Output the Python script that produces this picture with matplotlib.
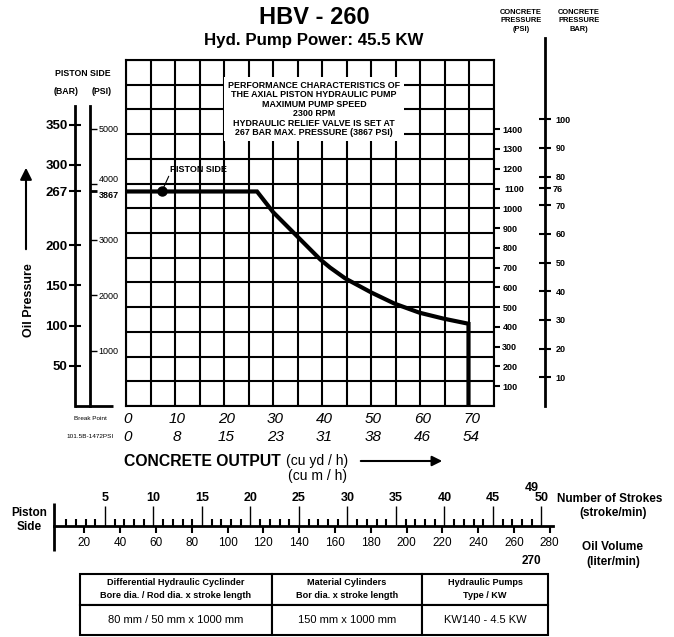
import numpy as np
import matplotlib
matplotlib.use("Agg")
import matplotlib.pyplot as plt
from matplotlib.lines import Line2D
from matplotlib.transforms import blended_transform_factory as blend

plt.rcParams['font.family'] = ['Liberation Sans', 'DejaVu Sans']

# ---------------- data ----------------
OUTPUT_CUYD = [0, 26.7, 30, 34.9, 39.6, 41.6, 44.7, 50, 54.7, 59.8, 64.7, 69.8, 69.8]
CONC_PSI = [1085, 1085, 980, 858, 741, 700, 645, 574, 518, 472, 442, 416, 0]
DOT_X = [7.3]
DOT_Y = [1085]

X_TICKS_CUYD = [0, 10, 20, 30, 40, 50, 60, 70]
X_LABELS_CUM = ['0', '8', '15', '23', '31', '38', '46', '54']

CONC_PSI_TICKS = [100, 200, 300, 400, 500, 600, 700, 800, 900, 1000, 1100, 1200, 1300, 1400]
CONC_BAR_TICKS = [10, 20, 30, 40, 50, 60, 70, 80, 90, 100]
CONC_BAR_MARK = 76
PSI_PER_BAR = 14.5

OIL_BAR_TICKS = [50, 100, 150, 200, 267, 300, 350]
OIL_PSI_TICKS = [1000, 2000, 3000, 3867, 4000, 5000]
OIL_MAX_BAR = 267
OIL_MAX_PSI = 3867

STROKE_MAJOR = [5, 10, 15, 20, 25, 30, 35, 40, 45, 50]
STROKE_MINOR = list(range(1, 50))
STROKE_MARK = 49
OIL_VOL_TICKS = [20, 40, 60, 80, 100, 120, 140, 160, 180, 200, 220, 240, 260, 280]
OIL_VOL_MARK = 270

BOX_LINES = ["PERFORMANCE CHARACTERISTICS OF", "THE AXIAL PISTON HYDRAULIC PUMP",
             "MAXIMUM PUMP SPEED", "2300 RPM", "HYDRAULIC RELIEF VALVE IS SET AT",
             "267 BAR MAX. PRESSURE (3867 PSI)"]

TABLE_HEAD = ["Differential Hydraulic Cyclinder\nBore dia. / Rod dia. x stroke length",
              "Material Cylinders\nBor dia. x stroke length",
              "Hydraulic Pumps\nType / KW"]
TABLE_BODY = ["80 mm / 50 mm x 1000 mm", "150 mm x 1000 mm", "KW140 - 4.5 KW"]

# ---------------- layout helpers (pixels, origin top-left) ----------------
W, H = 674, 637
fig = plt.figure(figsize=(W / 100, H / 100), dpi=100)


def fx(px):
    return px / W


def fy(py):
    return 1 - py / H


def rect(l, t, r, b):
    return [l / W, 1 - b / H, max(r - l, 0.05) / W, max(b - t, 0.05) / H]


def fline(x0, y0, x1, y1, lw=1.5):
    fig.add_artist(Line2D([fx(x0), fx(x1)], [fy(y0), fy(y1)], color='black', lw=lw,
                          transform=fig.transFigure, solid_capstyle='butt'))


LW = 1.5
XMAX, YMAX = 75, 1750
G_L, G_T, G_R, G_B = 126, 60, 494, 406

# ---------------- main grid ----------------
ax = fig.add_axes(rect(G_L, G_T, G_R, G_B))
ax.set_xlim(0, XMAX)
ax.set_ylim(0, YMAX)
ax.set_xticks(np.arange(0, XMAX + 1, 5))
ax.set_yticks(np.arange(0, YMAX + 1, 125))
ax.tick_params(length=0, labelbottom=False, labelleft=False)
ax.grid(True, color='black', lw=LW)
for s in ax.spines.values():
    s.set_linewidth(LW)

ax.plot(OUTPUT_CUYD, CONC_PSI, color='black', lw=3, zorder=5, solid_joinstyle='miter')
ax.plot(DOT_X, DOT_Y, 'o', color='black', ms=6.5, zorder=6)

ax.annotate('PISTON SIDE', xy=(DOT_X[0], DOT_Y[0]), xycoords='data',
            xytext=(fx(170), fy(169)), textcoords='figure fraction',
            ha='left', va='center', fontsize=6.5, fontweight='bold',
            arrowprops=dict(arrowstyle='-', lw=0.8, color='black', relpos=(0, 0),
                            shrinkA=0, shrinkB=3), zorder=7)

ax.text(fx(314), fy(109), "\n".join(BOX_LINES), transform=fig.transFigure,
        ha='center', va='center', fontsize=6.4, fontweight='bold', linespacing=1.08,
        bbox=dict(boxstyle='square,pad=0.45', fc='white', ec='none'), zorder=8)

# bottom x labels
tb = blend(ax.transData, fig.transFigure)
for v, lab2 in zip(X_TICKS_CUYD, X_LABELS_CUM):
    ax.text(v + 0.4, fy(419), str(v), transform=tb, ha='center', va='center',
            fontsize=11, style='italic')
    ax.text(v + 0.4, fy(437), lab2, transform=tb, ha='center', va='center',
            fontsize=11, style='italic')
fig.text(fx(90), fy(419), 'Break Point', ha='center', va='center', fontsize=4.6)
fig.text(fx(90), fy(437), '101.5B-1472PSI', ha='center', va='center', fontsize=4.6)

fig.text(fx(124), fy(461), 'CONCRETE OUTPUT', ha='left', va='center', fontsize=11.3,
         fontweight='bold')
fig.text(fx(286), fy(461), '(cu yd / h)', ha='left', va='center', fontsize=10)
fig.text(fx(288), fy(476), '(cu m / h)', ha='left', va='center', fontsize=10)
fig.add_artist(matplotlib.patches.FancyArrowPatch(
    (fx(358), fy(461)), (fx(445), fy(461)), transform=fig.transFigure,
    arrowstyle='-|>,head_length=6,head_width=3', lw=1.5, color='black',
    mutation_scale=1))

# ---------------- right: concrete pressure PSI ----------------
axr = ax.twinx()
axr.set_ylim(0, YMAX)
axr.set_yticks(CONC_PSI_TICKS, labels=[str(v) for v in CONC_PSI_TICKS],
               fontsize=6.5, fontweight='bold')
axr.tick_params(axis='y', length=4.5, width=LW, pad=1.5)
for s in axr.spines.values():
    s.set_visible(False)
for t, v in zip(axr.yaxis.get_major_ticks(), CONC_PSI_TICKS):
    if v == 1100:
        t.tick2line.set_markersize(9.5)
        t.tick2line.set_markeredgewidth(3)
        t.set_pad(3)

# ---------------- right: concrete pressure BAR ----------------
CB_TOP = 38
axb = fig.add_axes(rect(545, CB_TOP, 545, G_B))
axb.set_ylim(0, YMAX / PSI_PER_BAR * (G_B - CB_TOP) / (G_B - G_T))
axb.set_xticks([])
axb.yaxis.tick_right()
for k, s in axb.spines.items():
    s.set_visible(k == 'right')
axb.spines['right'].set_linewidth(2)
axb.set_yticks(CONC_BAR_TICKS + [CONC_BAR_MARK],
               labels=[str(v) for v in CONC_BAR_TICKS] + [str(CONC_BAR_MARK)],
               fontsize=6.5, fontweight='bold')
axb.tick_params(axis='y', direction='inout', length=8.6, width=LW, pad=3.5)
axb.yaxis.get_major_ticks()[-1].set_pad(1.2)

fig.text(fx(521), fy(21), 'CONCRETE\nPRESSURE\n(PSI)', ha='center', va='center',
         fontsize=5.4, fontweight='bold', linespacing=1.3)
fig.text(fx(579), fy(21), 'CONCRETE\nPRESSURE\nBAR)', ha='center', va='center',
         fontsize=5.4, fontweight='bold', linespacing=1.3)

# ---------------- left: oil pressure scales ----------------
OP_TOP = 106
oil_bar_top = (G_B - OP_TOP) / (G_B - G_T) * YMAX * OIL_MAX_BAR / DOT_Y[0]
axo = fig.add_axes(rect(75, OP_TOP, 75, G_B))
axo.set_ylim(0, oil_bar_top)
axo.set_xticks([])
for k, s in axo.spines.items():
    s.set_visible(k == 'left')
axo.spines['left'].set_linewidth(2)
axo.set_yticks(OIL_BAR_TICKS, labels=[str(v) for v in OIL_BAR_TICKS],
               fontsize=9.5, fontweight='bold')
axo.tick_params(axis='y', direction='inout', length=8.6, width=LW, pad=1)

axp = fig.add_axes(rect(90, OP_TOP, 90, G_B))
axp.set_ylim(0, oil_bar_top * OIL_MAX_PSI / OIL_MAX_BAR)
axp.set_xticks([])
axp.yaxis.tick_right()
for k, s in axp.spines.items():
    s.set_visible(k == 'right')
axp.spines['right'].set_linewidth(2)
axp.set_yticks(OIL_PSI_TICKS, labels=[str(v) for v in OIL_PSI_TICKS], fontsize=6.5)
axp.tick_params(axis='y', direction='out', length=5, width=1, pad=1)
for t, v in zip(axp.yaxis.get_major_ticks(), OIL_PSI_TICKS):
    if v == OIL_MAX_PSI:
        t.label2.set_fontweight('bold')
        t.tick2line.set_markeredgewidth(2)
        t.label2.set_va('top')
    if v == 4000:
        t.label2.set_va('bottom')

fline(75, G_B, 113, G_B, lw=2)
fig.text(fx(83), fy(73), 'PISTON SIDE', ha='center', va='center', fontsize=6.3,
         fontweight='bold')
fig.text(fx(66), fy(91), '(BAR)', ha='center', va='center', fontsize=6.3, fontweight='bold')
fig.text(fx(102), fy(91), '(PSI)', ha='center', va='center', fontsize=6.3, fontweight='bold')
fig.text(fx(29), fy(300), 'Oil Pressure', rotation=90, ha='center', va='center',
         fontsize=9, fontweight='bold')
fig.add_artist(matplotlib.patches.FancyArrowPatch(
    (fx(26), fy(252)), (fx(26), fy(165)), transform=fig.transFigure,
    arrowstyle='-|>,head_length=7,head_width=3.5', lw=1.5, color='black',
    mutation_scale=1))

# ---------------- bottom: strokes / oil volume scale ----------------
S_L, S_R, S_Y = 54, 553, 526
STROKE_PX0, STROKE_PX_PER = 56.5, 9.7
OIL_PX0, OIL_PX_PER = 48.5, 1.79
axs = fig.add_axes(rect(S_L, S_Y, S_R, S_Y))
axs.set_xlim((S_L - STROKE_PX0) / STROKE_PX_PER, (S_R - STROKE_PX0) / STROKE_PX_PER)
axs.set_yticks([])

axv = axs.twiny()
axv.set_xlim((S_L - OIL_PX0) / OIL_PX_PER, (S_R - OIL_PX0) / OIL_PX_PER)
axv.set_yticks([])
for s in axv.spines.values():
    s.set_visible(False)
axv.xaxis.tick_bottom()
axv.set_xticks(OIL_VOL_TICKS, labels=[str(v) for v in OIL_VOL_TICKS], fontsize=8.5)
axv.tick_params(axis='x', which='both', top=False, labeltop=False, bottom=True,
                labelbottom=True, direction='out', length=5, width=1.5, pad=3)

for k, s in axs.spines.items():
    s.set_visible(k == 'top')
axs.spines['top'].set_linewidth(2)
axs.set_xticks(STROKE_MAJOR, labels=[str(v) for v in STROKE_MAJOR], fontsize=9,
               fontweight='bold')
axs.set_xticks(STROKE_MINOR, minor=True)
axs.tick_params(axis='x', which='both', top=True, labeltop=True, bottom=False,
                labelbottom=False, direction='out')
axs.tick_params(axis='x', which='major', length=14.5, width=1, pad=1.5)
axs.tick_params(axis='x', which='minor', length=5, width=1.5)

axs.text(STROKE_MARK, fy(488), str(STROKE_MARK), transform=blend(axs.transData, fig.transFigure),
         ha='center', va='center', fontsize=9, fontweight='bold')
axv.text(OIL_VOL_MARK, fy(561), str(OIL_VOL_MARK), transform=blend(axv.transData, fig.transFigure),
         ha='center', va='center', fontsize=8.5, fontweight='bold')

fline(S_L, 503, S_L, 551, lw=2)
fig.text(fx(29), fy(513), 'Piston', ha='center', va='center', fontsize=8.5, fontweight='bold')
fig.text(fx(29), fy(527), 'Side', ha='center', va='center', fontsize=8.5, fontweight='bold')
fig.text(fx(557), fy(499), 'Number of Strokes', ha='left', va='center', fontsize=8.5,
         fontweight='bold')
fig.text(fx(613), fy(513), '(stroke/min)', ha='center', va='center', fontsize=8.5,
         fontweight='bold')
fig.text(fx(613), fy(547), 'Oil Volume', ha='center', va='center', fontsize=8.5,
         fontweight='bold')
fig.text(fx(613), fy(562), '(liter/min)', ha='center', va='center', fontsize=8.5,
         fontweight='bold')

# ---------------- titles ----------------
fig.text(fx(314), fy(17), 'HBV - 260', ha='center', va='center', fontsize=17,
         fontweight='bold')
fig.text(fx(314), fy(41), 'Hyd. Pump Power: 45.5 KW', ha='center', va='center',
         fontsize=12.2, fontweight='bold')

# ---------------- table ----------------
axt = fig.add_axes(rect(80, 574, 548, 635))
axt.axis('off')
widths = np.array([192, 150, 126], dtype=float)
tbl = axt.table(cellText=[TABLE_HEAD, TABLE_BODY], cellLoc='center',
                colWidths=list(widths / widths.sum()), bbox=[0, 0, 1, 1])
tbl.auto_set_font_size(False)
for (r, c), cell in tbl.get_celld().items():
    cell.set_linewidth(LW)
    txt = cell.get_text()
    if r == 0:
        txt.set_fontsize(6.6)
        txt.set_fontweight('bold')
        txt.set_linespacing(1.6)
    else:
        txt.set_fontsize(8)

fig.savefig('out.png', dpi=100)
